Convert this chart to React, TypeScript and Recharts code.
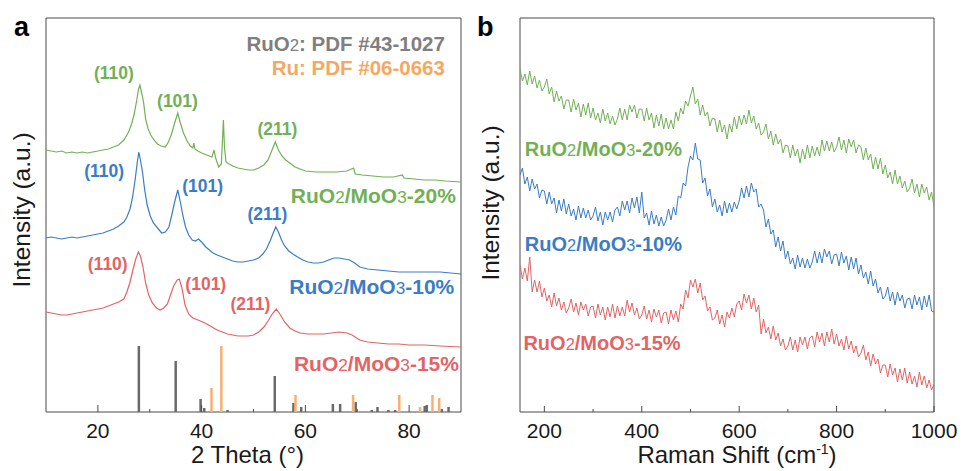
import React from "react";
import {
  LineChart,
  Line,
  XAxis,
  YAxis,
  ReferenceLine,
  ReferenceArea,
  ReferenceDot,
} from "recharts";

const FONT = '"Liberation Sans", Arial, sans-serif';
const FRAME = "#4a4a4a";
const TEXT = "#1a1a1a";
const GREEN = "#72b055";
const BLUE = "#3a7dc6";
const RED = "#e26464";
const GRAY = "#7f7f7f";
const ORANGE = "#f5a862";

// ---- XRD (panel a): [2theta, intensity] ----
const xrd20: number[][] = [
  [10, 262], [11, 261], [12, 260], [13, 261], [14, 259], [15, 260], [16, 259], [17, 260], [18, 259],
  [19, 260], [20, 261], [21, 262], [22, 263], [23, 265], [24, 267], [25, 272], [25.5, 276], [26, 281],
  [26.5, 288], [27, 298], [27.5, 312], [27.8, 322], [28.1, 327], [28.4, 320], [28.8, 310], [29.2, 293],
  [29.7, 283], [30.2, 277], [30.8, 272], [31.5, 268], [32.2, 266], [33, 265], [33.6, 270], [34.2, 278],
  [34.8, 289], [35.4, 299], [35.9, 289], [36.5, 279], [37.2, 271], [37.8, 266], [38.3, 264], [38.5, 269],
  [38.7, 263], [39.3, 261], [40, 259], [41, 257], [42, 255], [42.4, 262], [42.7, 254], [43.3, 245],
  [43.8, 248], [44.0, 270], [44.2, 292], [44.4, 265], [44.7, 250], [45.3, 248], [46, 246], [47, 244],
  [48, 243], [49, 242], [50, 242], [51, 244], [52, 247], [52.8, 252], [53.5, 261], [54.2, 270],
  [54.8, 262], [55.5, 256], [56.2, 252], [57, 249], [58, 245], [59, 243], [60, 241], [62, 240],
  [64, 240], [66, 240], [68, 241], [69.3, 244], [69.6, 238], [71, 237], [73, 236], [75, 235],
  [77, 235], [78.7, 237], [79, 234], [81, 233], [83, 232], [85, 232], [87, 231], [90, 230],
];

const xrd10: number[][] = [
  [10, 174], [11, 175], [12, 174], [13, 173], [14, 174], [15, 175], [16, 174], [17, 175], [18, 176],
  [19, 177], [20, 178], [21, 179], [22, 181], [23, 183], [24, 186], [25, 190], [25.6, 195], [26.2, 203],
  [26.7, 215], [27.2, 233], [27.6, 250], [27.9, 260], [28.2, 252], [28.6, 240], [29.0, 223], [29.5, 207],
  [30.1, 196], [30.7, 189], [31.5, 184], [32.3, 179], [33, 180], [33.7, 185], [34.2, 196], [34.8, 210],
  [35.4, 222], [35.9, 210], [36.4, 196], [36.9, 185], [37.5, 177], [38.2, 172], [38.8, 171], [39.4, 173],
  [40, 170], [40.8, 165], [41.5, 162], [42.2, 159], [43, 157], [44, 155], [45, 153], [46, 151],
  [47, 150], [48, 150], [49, 151], [50, 152], [51, 154], [51.8, 158], [52.5, 163], [53.2, 171],
  [53.8, 179], [54.3, 185], [54.8, 180], [55.4, 172], [56, 166], [56.8, 161], [57.6, 158], [58.5, 155],
  [59.5, 152], [60.5, 150], [61.5, 149], [62.5, 149], [63.5, 150], [64.5, 152], [65.5, 154], [66.5, 154],
  [67.5, 153], [68.5, 152], [69.5, 149], [70.5, 145], [72, 143], [74, 142], [76, 141], [78, 140],
  [80, 140], [82, 140], [84, 140], [86, 140], [88, 139], [90, 138],
];

const xrd15: number[][] = [
  [10, 100], [11, 99], [12, 98], [13, 97], [14, 97], [15, 98], [16, 99], [17, 100], [18, 101],
  [19, 102], [20, 103], [21, 104], [22, 106], [23, 108], [24, 110], [25, 113], [25.6, 120], [26.2, 130],
  [26.8, 143], [27.3, 153], [27.8, 160], [28.2, 156], [28.7, 145], [29.2, 129], [29.8, 117], [30.5, 109],
  [31.3, 104], [32, 102], [32.7, 104], [33.4, 108], [34, 117], [34.6, 126], [35.3, 132], [35.7, 133],
  [36.2, 124], [36.8, 107], [37.5, 98], [38.3, 94], [39.3, 92], [40.2, 90], [41, 88], [42, 85],
  [43, 82], [44, 80], [45, 78], [46, 77], [47, 76], [48, 76], [49, 76], [50, 77],
  [51, 80], [52, 85], [52.8, 91], [53.6, 98], [54.4, 103], [55.2, 97], [56, 90], [57, 84],
  [58, 81], [59, 79], [60.5, 78], [62, 78], [63.5, 78], [65, 79], [66.5, 80], [68, 79],
  [69, 77], [70.5, 72], [72, 70], [74, 69], [76, 68], [78, 68], [80, 67], [83, 67], [86, 66], [90, 65],
];

// reference patterns: [2theta, relative height]
const ruo2Sticks: number[][] = [
  [27.9, 66], [35.0, 51], [39.8, 13], [40.5, 4], [45.0, 2], [54.1, 36], [57.7, 9], [59.2, 5],
  [65.3, 8], [66.7, 8], [69.7, 10], [72.8, 2], [73.9, 5], [76.0, 2], [77.3, 2], [83.0, 6],
  [83.4, 7], [86.3, 3], [87.6, 5],
];
const ruSticks: number[][] = [
  [41.9, 24], [43.8, 66], [58.1, 17], [69.2, 17], [78.1, 17], [82.1, 5], [84.5, 17], [85.8, 14],
];

// ---- Raman (panel b): intensity every 5 cm-1 from 150 ----
const raman20 = [
  343, 331, 338, 327, 341, 328, 336, 324, 332, 321,
  325, 333, 318, 325, 310, 321, 311, 316, 303, 312,
  312, 300, 313, 302, 309, 295, 308, 297, 309, 294,
  304, 292, 299, 289, 303, 291, 299, 288, 296, 287,
  293, 304, 292, 303, 292, 307, 300, 307, 294, 303,
  303, 291, 304, 292, 299, 284, 297, 286, 298, 283,
  294, 283, 292, 283, 300, 291, 304, 298, 311, 306,
  316, 325, 308, 313, 297, 307, 296, 300, 286, 294,
  293, 280, 292, 280, 287, 273, 288, 280, 295, 283,
  296, 287, 297, 288, 302, 289, 296, 283, 289, 277,
  280, 288, 273, 281, 267, 278, 268, 273, 259, 267,
  266, 254, 267, 256, 263, 249, 263, 253, 267, 254,
  266, 256, 265, 256, 272, 261, 271, 261, 270, 260,
  265, 275, 262, 272, 259, 273, 265, 272, 259, 267,
  265, 252, 264, 252, 258, 243, 255, 243, 254, 238,
  247, 234, 240, 228, 242, 228, 236, 224, 231, 220,
  224, 233, 219, 228, 215, 228, 219, 225, 212, 220,
  205,
];
const raman10 = [
  237, 244, 228, 235, 221, 233, 223, 228, 214, 222,
  221, 208, 220, 208, 214, 199, 212, 201, 213, 198,
  208, 196, 203, 192, 206, 194, 204, 194, 202, 192,
  196, 205, 191, 200, 187, 200, 192, 200, 190, 202,
  205, 196, 211, 202, 211, 199, 214, 204, 215, 199,
  220, 194, 199, 187, 201, 188, 197, 186, 195, 186,
  192, 203, 192, 205, 197, 216, 214, 229, 226, 245,
  256, 252, 269, 253, 252, 229, 234, 216, 223, 205,
  213, 200, 207, 196, 211, 199, 209, 200, 210, 203,
  211, 224, 214, 226, 215, 229, 220, 223, 205, 208,
  202, 185, 193, 178, 182, 165, 175, 161, 171, 153,
  161, 148, 154, 143, 157, 145, 154, 144, 153, 144,
  150, 161, 149, 160, 149, 163, 155, 161, 148, 157,
  158, 146, 160, 149, 156, 142, 155, 143, 154, 138,
  147, 134, 140, 128, 141, 126, 133, 119, 125, 113,
  116, 125, 111, 120, 107, 120, 111, 117, 104, 113,
  114, 103, 117, 107, 115, 102, 116, 105, 117, 101,
  100,
];
const raman15 = [
  147, 133, 144, 131, 155, 120, 132, 120, 131, 115,
  124, 111, 117, 105, 119, 106, 114, 102, 110, 99,
  104, 113, 100, 109, 97, 110, 102, 108, 96, 105,
  106, 94, 108, 97, 105, 92, 105, 95, 108, 94,
  106, 96, 105, 96, 112, 100, 109, 97, 104, 93,
  97, 106, 93, 102, 90, 103, 95, 102, 89, 99,
  100, 88, 102, 92, 101, 90, 108, 103, 122, 114,
  132, 125, 133, 119, 129, 112, 116, 101, 105, 92,
  94, 102, 88, 97, 85, 100, 94, 104, 95, 108,
  111, 102, 118, 109, 117, 103, 114, 100, 107, 78,
  93, 79, 85, 73, 86, 72, 79, 66, 73, 62,
  66, 75, 62, 72, 60, 75, 67, 75, 63, 74,
  76, 65, 80, 70, 79, 66, 80, 70, 83, 68,
  78, 66, 73, 62, 76, 63, 71, 59, 66, 55,
  59, 67, 52, 60, 46, 58, 48, 53, 39, 47,
  47, 35, 48, 37, 44, 30, 43, 32, 44, 29,
  40, 28, 36, 25, 40, 27, 36, 24, 32, 22,
  28,
];

// annotations: [x, y, text]
const peakLabels20: [number, number, string][] = [[23.1, 339, "(110)"], [35.35, 311, "(101)"], [54.6, 283, "(211)"]];
const peakLabels10: [number, number, string][] = [[21.2, 241, "(110)"], [40.2, 226, "(101)"], [52.7, 198, "(211)"]];
const peakLabels15: [number, number, string][] = [[21.9, 148, "(110)"], [40.8, 128, "(101)"], [49.4, 108, "(211)"]];

const sampleNames = ["RuO2/MoO3-20%", "RuO2/MoO3-10%", "RuO2/MoO3-15%"];
const sampleColors = [GREEN, BLUE, RED];
const xrdNameAt: number[][] = [[89.0, 217], [88.7, 126], [89.6, 49]];
const ramanNameAt: number[][] = [[160, 263], [160, 168], [157, 69]];
const pdfLegend = ["RuO2: PDF #43-1027", "Ru: PDF #06-0663"];
const pdfLegendAt: number[][] = [[86.9, 368], [86.9, 344]];

const xrdTicks = [20, 30, 40, 50, 60, 70, 80];
const xrdMajor = [20, 40, 60, 80];
const ramanTicks = [200, 300, 400, 500, 600, 700, 800, 900, 1000];
const ramanMajor = [200, 400, 600, 800, 1000];

const toPts = (arr: number[][]) => arr.map(([x, y]) => ({ x, y }));
const ramanPts = (arr: number[]) => arr.map((y, i) => ({ x: 150 + 5 * i, y }));

// "RuO2" style: digit right after O is drawn smaller and not bold
function Formula({ text }: { text: string }) {
  const parts = text.split(/(?<=O)(\d)/);
  return (
    <>
      {parts.map((p, i) =>
        i % 2 === 1 ? (
          <tspan key={i} fontSize="0.82em" fontWeight="normal">{p}</tspan>
        ) : (
          <tspan key={i}>{p}</tspan>
        )
      )}
    </>
  );
}

function Anno(props: any) {
  const vb = props.viewBox || { x: 0, y: 0 };
  return (
    <text
      x={vb.x}
      y={vb.y + props.size * 0.36}
      textAnchor={props.anchor}
      fill={props.color}
      fontSize={props.size}
      fontWeight="bold"
      fontFamily={FONT}
    >
      <Formula text={props.text} />
    </text>
  );
}

function makeTick(majors: number[], majorLen: number) {
  return (props: any) => {
    const { x, y, payload } = props;
    const major = majors.includes(payload.value);
    return (
      <g>
        <line x1={x} x2={x} y1={y} y2={y - (major ? majorLen : 3)} stroke={FRAME} strokeWidth={1} />
        {major && (
          <text x={x} y={y + 26} textAnchor="middle" fontSize={21} fontFamily={FONT} fill={TEXT}>
            {payload.value}
          </text>
        )}
      </g>
    );
  };
}

function YTitle(props: any) {
  const vb = props.viewBox || { x: 0, y: 18, width: 40, height: 394 };
  const cx = vb.x + props.shiftX;
  const cy = vb.y + vb.height / 2 + props.shiftY;
  return (
    <text
      x={cx}
      y={cy}
      transform={`rotate(-90 ${cx} ${cy})`}
      textAnchor="middle"
      dominantBaseline="central"
      fontSize={24.5}
      fontFamily={FONT}
      fill={TEXT}
    >
      Intensity (a.u.)
    </text>
  );
}

function XTitle(props: any) {
  const vb = props.viewBox || { x: 0, y: 412, width: 415, height: 59 };
  const cx = vb.x + vb.width / 2 + props.shiftX;
  const y = vb.y + 51;
  return (
    <text x={cx} y={y} textAnchor="middle" fontSize={24} fontFamily={FONT} fill={TEXT}>
      {props.raman ? (
        <>
          <tspan>Raman Shift (cm</tspan>
          <tspan dy={-9} fontSize={14}>-1</tspan>
          <tspan dy={9}>)</tspan>
        </>
      ) : (
        "2 Theta (°)"
      )}
    </text>
  );
}

function XrdPanel() {
  const series = [xrd20, xrd10, xrd15];
  const peaks = [peakLabels20, peakLabels10, peakLabels15];
  return (
    <LineChart width={480} height={471} margin={{ top: 18, right: 19, bottom: 0, left: 0 }}>
      <XAxis
        type="number"
        dataKey="x"
        domain={[10, 90]}
        ticks={xrdTicks}
        interval={0}
        tick={makeTick(xrdMajor, 7)}
        tickLine={false}
        axisLine={false}
        tickSize={0}
        tickMargin={0}
        height={59}
        allowDataOverflow
        label={<XTitle shiftX={-6} />}
      />
      <YAxis
        type="number"
        domain={[0, 394]}
        width={46}
        tick={false}
        tickLine={false}
        axisLine={false}
        allowDataOverflow
        label={<YTitle shiftX={21} shiftY={-5} />}
      />
      <ReferenceArea x1={10} x2={90} y1={0} y2={394} fill="none" stroke={FRAME} strokeWidth={1} />
      {ruo2Sticks.map(([t, h], i) => (
        <ReferenceLine key={"g" + i} segment={[{ x: t, y: 0 }, { x: t, y: h }]} stroke="#6a6a6a" strokeWidth={2.5} />
      ))}
      {ruSticks.map(([t, h], i) => (
        <ReferenceLine key={"o" + i} segment={[{ x: t, y: 0 }, { x: t, y: h }]} stroke="#f7b070" strokeWidth={2.5} />
      ))}
      {series.map((s, i) => (
        <Line
          key={i}
          data={toPts(s)}
          dataKey="y"
          type="linear"
          dot={false}
          activeDot={false}
          stroke={sampleColors[i]}
          strokeWidth={1.2}
          isAnimationActive={false}
        />
      ))}
      {peaks.map((list, i) =>
        list.map(([x, y, t], j) => (
          <ReferenceDot
            key={`p${i}${j}`}
            x={x}
            y={y}
            r={0}
            fill="none"
            stroke="none"
            label={<Anno text={t} color={sampleColors[i]} size={17.5} anchor="middle" />}
          />
        ))
      )}
      {sampleNames.map((n, i) => (
        <ReferenceDot
          key={"n" + i}
          x={xrdNameAt[i][0]}
          y={xrdNameAt[i][1]}
          r={0}
          fill="none"
          stroke="none"
          label={<Anno text={n} color={sampleColors[i]} size={21} anchor="end" />}
        />
      ))}
      {pdfLegend.map((n, i) => (
        <ReferenceDot
          key={"l" + i}
          x={pdfLegendAt[i][0]}
          y={pdfLegendAt[i][1]}
          r={0}
          fill="none"
          stroke="none"
          label={<Anno text={n} color={i === 0 ? GRAY : ORANGE} size={20.5} anchor="end" />}
        />
      ))}
    </LineChart>
  );
}

function RamanPanel() {
  const series = [raman20, raman10, raman15];
  return (
    <LineChart width={493} height={471} margin={{ top: 18, right: 29, bottom: 0, left: 0 }}>
      <XAxis
        type="number"
        dataKey="x"
        domain={[150, 1000]}
        ticks={ramanTicks}
        interval={0}
        tick={makeTick(ramanMajor, 6)}
        tickLine={false}
        axisLine={false}
        tickSize={0}
        tickMargin={0}
        height={59}
        allowDataOverflow
        label={<XTitle shiftX={10} raman />}
      />
      <YAxis
        type="number"
        domain={[0, 394]}
        width={50}
        tick={false}
        tickLine={false}
        axisLine={false}
        allowDataOverflow
        label={<YTitle shiftX={20} shiftY={-12} />}
      />
      <ReferenceArea x1={150} x2={1000} y1={0} y2={394} fill="none" stroke={FRAME} strokeWidth={1} />
      {series.map((s, i) => (
        <Line
          key={i}
          data={ramanPts(s)}
          dataKey="y"
          type="linear"
          dot={false}
          activeDot={false}
          stroke={sampleColors[i]}
          strokeWidth={1}
          isAnimationActive={false}
        />
      ))}
      {sampleNames.map((n, i) => (
        <ReferenceDot
          key={"n" + i}
          x={ramanNameAt[i][0]}
          y={ramanNameAt[i][1]}
          r={0}
          fill="none"
          stroke="none"
          label={<Anno text={n} color={sampleColors[i]} size={20} anchor="start" />}
        />
      ))}
    </LineChart>
  );
}

export default function App() {
  return (
    <div style={{ position: "absolute", left: 0, top: 0, width: 963, height: 471, background: "#fff" }}>
      <div style={{ position: "absolute", left: 0, top: 0 }}>
        <XrdPanel />
      </div>
      <div style={{ position: "absolute", left: 470, top: 0 }}>
        <RamanPanel />
      </div>
      <svg width={963} height={471} style={{ position: "absolute", left: 0, top: 0, pointerEvents: "none" }}>
        <text x={14} y={36} fontSize={27} fontWeight="bold" fontFamily={FONT} fill="#000">a</text>
        <text x={477} y={36} fontSize={27} fontWeight="bold" fontFamily={FONT} fill="#000">b</text>
      </svg>
    </div>
  );
}
